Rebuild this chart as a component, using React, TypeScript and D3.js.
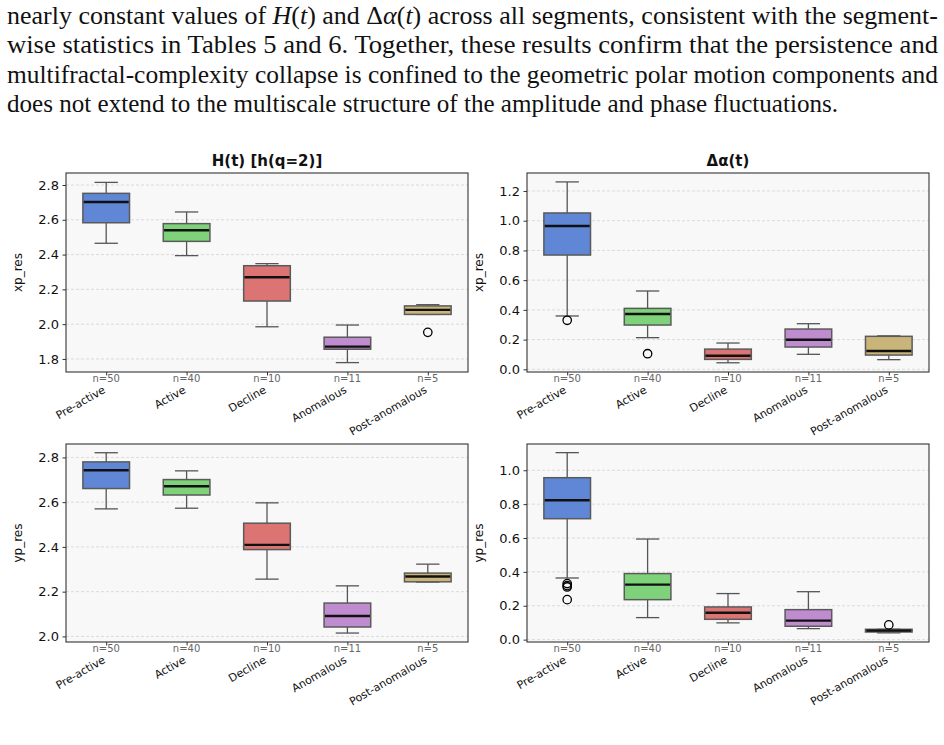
import React, { useEffect, useRef } from 'react'
import * as d3 from 'd3'

const W = 944
const H = 745

const categories = ['Pre-active', 'Active', 'Decline', 'Anomalous', 'Post-anomalous']
const counts = [50, 40, 10, 11, 5]
const boxColors = ['#5f87d6', '#7ed37a', '#dc7474', '#bf8ccf', '#c9b47a']

// box stats per segment: [whisker low, q1, median, q3, whisker high]
const hXp = [
  [2.465, 2.583, 2.702, 2.752, 2.815],
  [2.394, 2.476, 2.54, 2.578, 2.645],
  [1.985, 2.133, 2.27, 2.336, 2.348],
  [1.779, 1.856, 1.871, 1.925, 1.995],
  [2.056, 2.056, 2.082, 2.105, 2.112],
]
const hXpOutliers = [[], [], [], [], [1.953]]

const daXp = [
  [0.359, 0.769, 0.964, 1.052, 1.261],
  [0.213, 0.298, 0.372, 0.41, 0.527],
  [0.044, 0.067, 0.091, 0.136, 0.177],
  [0.101, 0.15, 0.199, 0.271, 0.307],
  [0.065, 0.096, 0.123, 0.222, 0.225],
]
const daXpOutliers = [[0.33], [0.105], [], [], []]

const hYp = [
  [2.57, 2.661, 2.743, 2.78, 2.821],
  [2.573, 2.632, 2.671, 2.701, 2.74],
  [2.256, 2.388, 2.409, 2.506, 2.597],
  [2.015, 2.042, 2.091, 2.149, 2.226],
  [2.243, 2.244, 2.268, 2.283, 2.323],
]
const hYpOutliers = [[], [], [], [], []]

const daYp = [
  [0.364, 0.714, 0.823, 0.956, 1.104],
  [0.13, 0.236, 0.325, 0.39, 0.594],
  [0.099, 0.12, 0.159, 0.193, 0.272],
  [0.065, 0.079, 0.112, 0.177, 0.283],
  [0.04, 0.045, 0.053, 0.061, 0.061],
]
const daYpOutliers = [[0.331, 0.319, 0.311, 0.236], [], [], [], [0.087]]

const ticksH1 = [1.8, 2.0, 2.2, 2.4, 2.6, 2.8]
const ticksDa1 = [0.0, 0.2, 0.4, 0.6, 0.8, 1.0, 1.2]
const ticksH2 = [2.0, 2.2, 2.4, 2.6, 2.8]
const ticksDa2 = [0.0, 0.2, 0.4, 0.6, 0.8, 1.0]

// paragraph above the figure, one entry per line: [text, italic]
const paragraph: [string, boolean][][] = [
  [['nearly constant values of ', false], ['H', true], ['(', false], ['t', true], [') and Δ', false], ['α', true], ['(', false], ['t', true], [') across all segments, consistent with the segment-', false]],
  [['wise statistics in Tables 5 and 6.  Together, these results confirm that the persistence and', false]],
  [['multifractal-complexity collapse is confined to the geometric polar motion components and', false]],
  [['does not extend to the multiscale structure of the amplitude and phase fluctuations.', false]],
]
const paragraphWidths = [931, 931, 931, 831]

const panels = [
  { title: 'H(t) [h(q=2)]', ylabel: 'xp_res', stats: hXp, outliers: hXpOutliers, domain: [1.725, 2.869], ticks: ticksH1, x0: 66, x1: 468, y0: 173, y1: 372 },
  { title: 'Δα(t)', ylabel: 'xp_res', stats: daXp, outliers: daXpOutliers, domain: [-0.018, 1.321], ticks: ticksDa1, x0: 527, x1: 929, y0: 173, y1: 372 },
  { title: '', ylabel: 'yp_res', stats: hYp, outliers: hYpOutliers, domain: [1.975, 2.86], ticks: ticksH2, x0: 66, x1: 468, y0: 444, y1: 642 },
  { title: '', ylabel: 'yp_res', stats: daYp, outliers: daYpOutliers, domain: [-0.014, 1.155], ticks: ticksDa2, x0: 527, x1: 929, y0: 444, y1: 642 },
]

const SANS = 'DejaVu Sans, sans-serif'

export default function App() {
  const ref = useRef<SVGSVGElement>(null)

  useEffect(() => {
    const svg = d3.select(ref.current)
    svg.selectAll('*').remove()

    svg.append('rect').attr('width', W).attr('height', H).attr('fill', '#fff')

    // text block, justified by stretching each line
    paragraph.forEach((line, i) => {
      const t = svg.append('text')
        .attr('x', 7)
        .attr('y', 24 + i * 29.3)
        .attr('font-family', 'Liberation Serif, serif')
        .attr('font-size', 25.5)
        .attr('fill', '#111')
        .attr('textLength', paragraphWidths[i])
        .attr('lengthAdjust', 'spacingAndGlyphs')
      line.forEach(([s, it]) => {
        t.append('tspan').attr('font-style', it ? 'italic' : 'normal').text(s)
      })
    })

    panels.forEach(p => {
      const g = svg.append('g')
      const x = d3.scalePoint<string>().domain(categories).range([p.x0, p.x1]).padding(0.5)
      const y = d3.scaleLinear().domain(p.domain).range([p.y1, p.y0])
      const step = x.step()
      const bw = step * 0.58
      const cw = bw / 2

      g.append('rect')
        .attr('x', p.x0).attr('y', p.y0)
        .attr('width', p.x1 - p.x0).attr('height', p.y1 - p.y0)
        .attr('fill', '#f8f8f8')

      // horizontal grid
      g.selectAll('.grid').data(p.ticks).enter().append('line')
        .attr('x1', p.x0).attr('x2', p.x1)
        .attr('y1', d => y(d)).attr('y2', d => y(d))
        .attr('stroke', '#cfcfcf').attr('stroke-width', 0.7)
        .attr('stroke-dasharray', '3,2')

      categories.forEach((c, i) => {
        const [lo, q1, med, q3, hi] = p.stats[i]
        const cx = x(c) as number
        const wg = g.append('g').attr('stroke', '#555').attr('stroke-width', 1.3)
        wg.append('line').attr('x1', cx).attr('x2', cx).attr('y1', y(q3)).attr('y2', y(hi))
        wg.append('line').attr('x1', cx).attr('x2', cx).attr('y1', y(q1)).attr('y2', y(lo))
        wg.append('line').attr('x1', cx - cw / 2).attr('x2', cx + cw / 2).attr('y1', y(hi)).attr('y2', y(hi))
        wg.append('line').attr('x1', cx - cw / 2).attr('x2', cx + cw / 2).attr('y1', y(lo)).attr('y2', y(lo))

        g.append('rect')
          .attr('x', cx - bw / 2).attr('y', y(q3))
          .attr('width', bw).attr('height', Math.max(0.5, y(q1) - y(q3)))
          .attr('fill', boxColors[i])
          .attr('stroke', '#5a5a5a').attr('stroke-width', 1.5)

        g.append('line')
          .attr('x1', cx - bw / 2 + 0.8).attr('x2', cx + bw / 2 - 0.8)
          .attr('y1', y(med)).attr('y2', y(med))
          .attr('stroke', '#111').attr('stroke-width', 2.4)

        g.selectAll(null).data(p.outliers[i]).enter().append('circle')
          .attr('cx', cx).attr('cy', d => y(d)).attr('r', 4.2)
          .attr('fill', 'none').attr('stroke', '#000').attr('stroke-width', 1.3)
      })

      // frame
      g.append('rect')
        .attr('x', p.x0).attr('y', p.y0)
        .attr('width', p.x1 - p.x0).attr('height', p.y1 - p.y0)
        .attr('fill', 'none').attr('stroke', '#333').attr('stroke-width', 1.1)

      // y axis
      const yAxis = g.append('g').attr('transform', `translate(${p.x0},0)`)
        .call(d3.axisLeft(y).tickValues(p.ticks).tickFormat(d3.format('.1f')).tickSize(3.5).tickPadding(3.5))
      yAxis.select('.domain').remove()
      yAxis.selectAll('line').attr('stroke', '#333')
      yAxis.selectAll('text').attr('font-family', SANS).attr('font-size', 13).attr('fill', '#111')

      // x axis ticks, sample counts and segment names
      const xAxis = g.append('g').attr('transform', `translate(0,${p.y1})`)
        .call(d3.axisBottom(x).tickSize(3.5).tickFormat(() => ''))
      xAxis.select('.domain').remove()
      xAxis.selectAll('line').attr('stroke', '#333')

      categories.forEach((c, i) => {
        const cx = x(c) as number
        g.append('text')
          .attr('x', cx).attr('y', p.y1 + 9.5)
          .attr('text-anchor', 'middle')
          .attr('font-family', SANS).attr('font-size', 10)
          .attr('fill', '#666')
          .text(`n=${counts[i]}`)
        g.append('text')
          .attr('transform', `translate(${cx},${p.y1 + 20}) rotate(-30)`)
          .attr('text-anchor', 'end')
          .attr('font-family', SANS).attr('font-size', 11)
          .attr('fill', '#111')
          .text(c)
      })

      g.append('text')
        .attr('transform', `translate(${p.x0 - 44},${(p.y0 + p.y1) / 2}) rotate(-90)`)
        .attr('text-anchor', 'middle')
        .attr('font-family', SANS).attr('font-size', 12)
        .attr('fill', '#111')
        .text(p.ylabel)

      if (p.title) {
        g.append('text')
          .attr('x', (p.x0 + p.x1) / 2).attr('y', p.y0 - 7)
          .attr('text-anchor', 'middle')
          .attr('font-family', SANS).attr('font-size', 15).attr('font-weight', 'bold')
          .attr('fill', '#111')
          .text(p.title)
      }
    })
  }, [])

  return (
    <svg ref={ref} width={W} height={H}
      style={{ position: 'absolute', left: 0, top: 0, display: 'block' }} />
  )
}
